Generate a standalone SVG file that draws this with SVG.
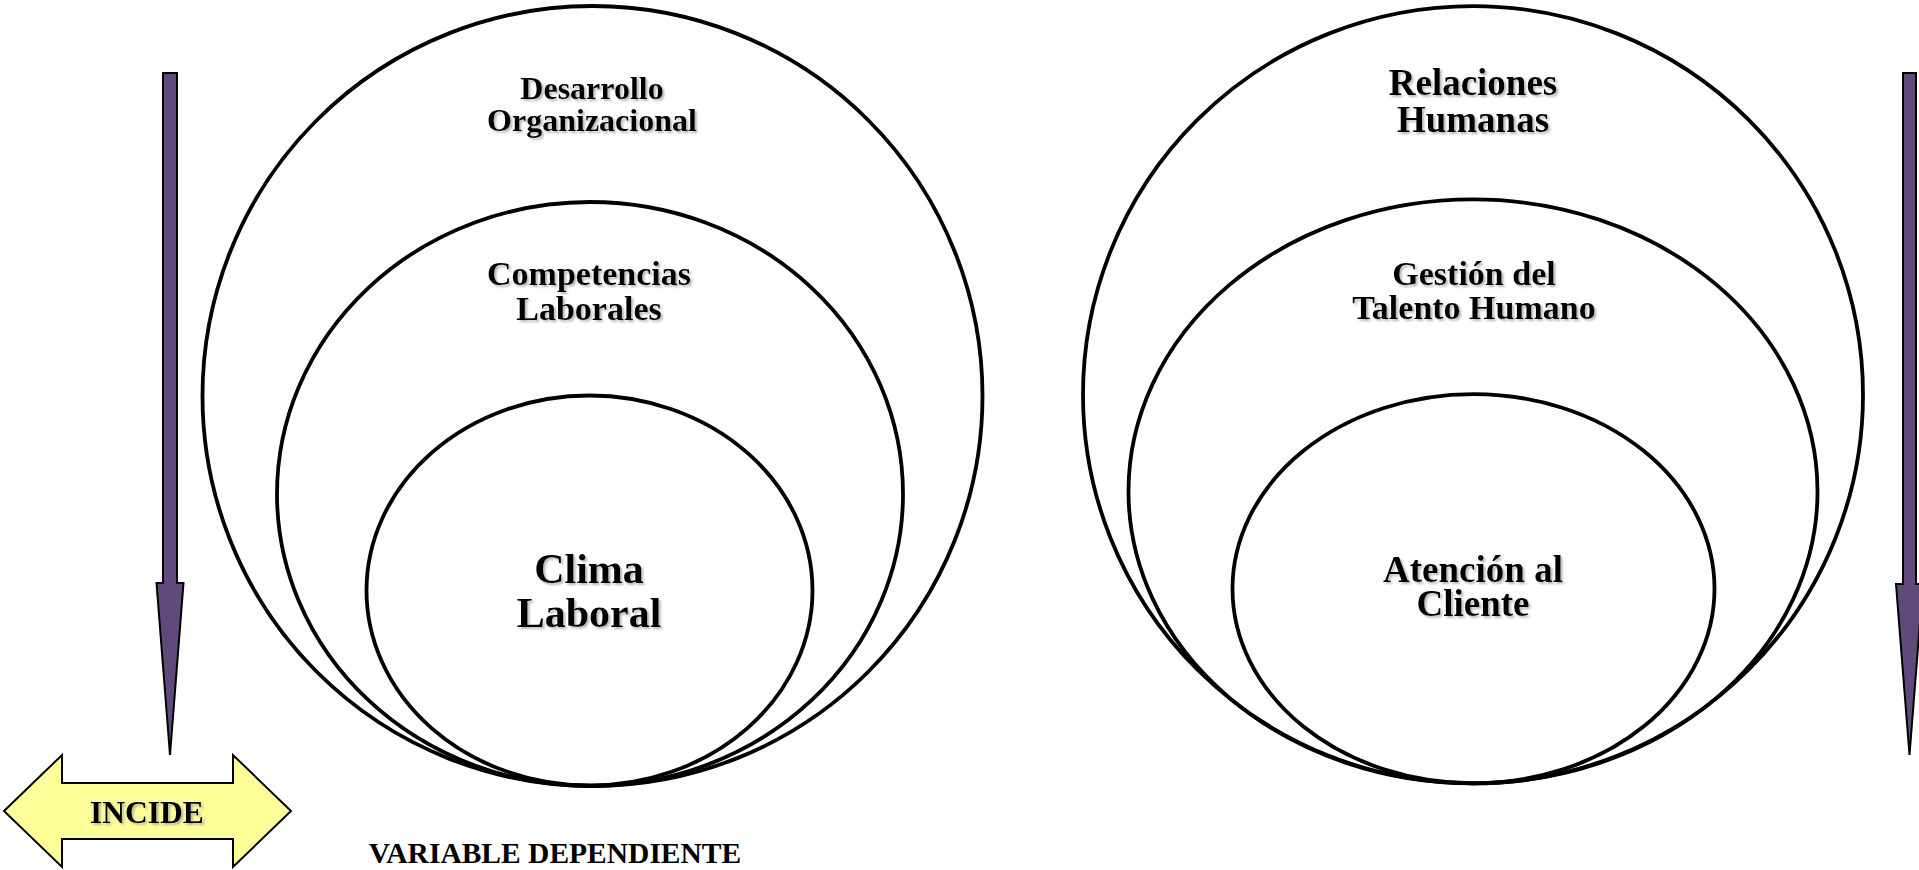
<svg xmlns="http://www.w3.org/2000/svg" width="1919" height="870" viewBox="0 0 1919 870">
<defs>
<filter id="sh" x="-10%" y="-20%" width="130%" height="150%">
<feDropShadow dx="2" dy="2" stdDeviation="1" flood-color="#888" flood-opacity="0.6"/>
</filter>
</defs>
<style>
.ring{fill:none;stroke:#000;stroke-width:3.8}
.t{font-family:"Liberation Serif","Times New Roman",serif;font-weight:bold;fill:#000;text-anchor:middle}
.arr{fill:#604A7B;stroke:#000;stroke-width:2;stroke-linejoin:miter}
.yel{fill:#FFFF99;stroke:#000;stroke-width:2}
</style>
<rect width="1919" height="870" fill="#fff"/>
<g id="connectors">
<path id="arrow-left" class="arr" d="M163,73 H177 V583 H183.5 L170,755 L156.5,583 H163 Z"/>
<path id="arrow-right" class="arr" d="M1903,73 H1916 V584 H1923 L1909.5,755 L1896,584 H1903 Z"/>
</g>
<g id="desarrollo-organizacional">
<ellipse class="ring" cx="592.5" cy="396" rx="390" ry="390"/>
<text class="t" filter="url(#sh)" font-size="32" x="592" y="99">Desarrollo</text>
<text class="t" filter="url(#sh)" font-size="32" x="592" y="131">Organizacional</text>
</g>
<g id="competencias-laborales">
<ellipse class="ring" cx="590" cy="494" rx="313" ry="292"/>
<text class="t" filter="url(#sh)" font-size="34" x="589" y="285">Competencias</text>
<text class="t" filter="url(#sh)" font-size="34" x="589" y="320">Laborales</text>
</g>
<g id="clima-laboral">
<ellipse class="ring" cx="589.5" cy="590.5" rx="223" ry="195"/>
<text class="t" filter="url(#sh)" font-size="42" x="589" y="583">Clima</text>
<text class="t" filter="url(#sh)" font-size="42" x="589" y="627">Laboral</text>
</g>
<g id="relaciones-humanas">
<ellipse class="ring" cx="1473" cy="394.7" rx="390" ry="388.6"/>
<text class="t" filter="url(#sh)" font-size="37" x="1473" y="95">Relaciones</text>
<text class="t" filter="url(#sh)" font-size="37" x="1473" y="132">Humanas</text>
</g>
<g id="gestion-talento-humano">
<ellipse class="ring" cx="1473" cy="491.4" rx="344.5" ry="292"/>
<text class="t" filter="url(#sh)" font-size="34" x="1474" y="285">Gestión del</text>
<text class="t" filter="url(#sh)" font-size="34" x="1474" y="319">Talento Humano</text>
</g>
<g id="atencion-cliente">
<ellipse class="ring" cx="1473.5" cy="588.7" rx="241" ry="194.6"/>
<text class="t" filter="url(#sh)" font-size="37" x="1473" y="582">Atención al</text>
<text class="t" filter="url(#sh)" font-size="37" x="1473" y="616">Cliente</text>
</g>
<g id="incide">
<path class="yel" d="M4,811 L62,755 V783 H233 V755 L291,811 L233,867 V839 H62 V867 Z"/>
<text class="t" filter="url(#sh)" font-size="31.5" x="147" y="823">INCIDE</text>
</g>
<g id="variable-dependiente">
<text class="t" font-size="29.5" x="555" y="863">VARIABLE DEPENDIENTE</text>
</g>
</svg>
